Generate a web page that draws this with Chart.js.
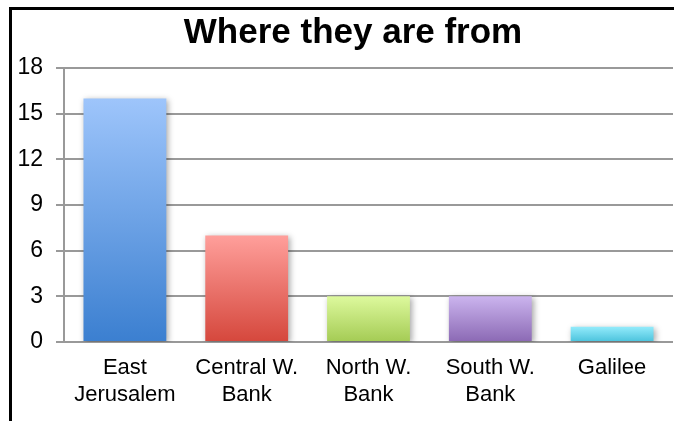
<!DOCTYPE html>
<html>
<head>
<meta charset="utf-8">
<title>Where they are from</title>
<script src="https://cdn.jsdelivr.net/npm/chart.js@4/dist/chart.umd.min.js"></script>
<style>
    html, body { margin: 0; padding: 0; background: #fff; }
    #wrap { position: relative; width: 674px; height: 421px; overflow: hidden; }
    /* black frame of the original, cut off at right and bottom */
    #frame {
        position: absolute; left: 9px; top: 7px; right: -5px; bottom: -5px;
        border-left: 3px solid #000; border-top: 3px solid #000;
    }
    #chart { position: absolute; left: 0; top: 0; }
</style>
</head>
<body>
<div id="wrap">
    <div id="frame"></div>
    <canvas id="chart" width="674" height="421"></canvas>
</div>
<script>
// data
const regions = [['East', 'Jerusalem'], ['Central W.', 'Bank'], ['North W.', 'Bank'], ['South W.', 'Bank'], 'Galilee'];
const people = [16, 7, 3, 3, 1];
const yMin = 0;
const yMax = 18;
const yStep = 3;

// light top / dark bottom of each bar's gradient
const topColors = ['#9ec5fb', '#ff9f9b', '#ddf99d', '#cbb4ee', '#93ebfb'];
const bottomColors = ['#3b7fd0', '#d5473c', '#a4cb54', '#8b69b4', '#4ac2dc'];

const gridGray = '#999999';

Chart.defaults.font.family = '"Liberation Sans", Arial, Helvetica, sans-serif';
Chart.defaults.color = '#000';

function barGradient(ctx) {
    const chart = ctx.chart;
    const i = ctx.dataIndex;
    if (ctx.type !== 'data' || !chart.chartArea) return bottomColors[i];
    const y = chart.scales.y;
    const g = chart.ctx.createLinearGradient(0, y.getPixelForValue(ctx.raw), 0, y.getPixelForValue(0));
    g.addColorStop(0, topColors[i]);
    g.addColorStop(1, bottomColors[i]);
    return g;
}

// soft drop shadow under the bars
const barShadow = {
    id: 'barShadow',
    beforeDatasetsDraw(chart) {
        const c = chart.ctx;
        c.save();
        c.shadowColor = 'rgba(0, 0, 0, 0.35)';
        c.shadowBlur = 6;
        c.shadowOffsetX = 2;
        c.shadowOffsetY = 2;
    },
    afterDatasetsDraw(chart) {
        chart.ctx.restore();
    }
};

// the y axis is kept narrow so the title sits where it does in the original;
// widen its label clip area back to the canvas edge so the numbers aren't cut
const wideYLabels = {
    id: 'wideYLabels',
    afterLayout(chart) {
        chart.scales.y.left = 0;
    }
};

new Chart(document.getElementById('chart').getContext('2d'), {
    type: 'bar',
    data: {
        labels: regions,
        datasets: [{
            data: people,
            backgroundColor: barGradient,
            borderWidth: 0,
            categoryPercentage: 1,
            barPercentage: 0.68
        }]
    },
    options: {
        responsive: false,
        animation: false,
        layout: { padding: { left: 33, right: 1, top: 0, bottom: 0 } },
        plugins: {
            legend: { display: false },
            tooltip: { enabled: false },
            title: {
                display: true,
                text: 'Where they are from',
                color: '#000',
                font: { size: 35, weight: 'bold' },
                padding: { top: 12, bottom: 14 }
            }
        },
        scales: {
            x: {
                grid: { display: false, drawTicks: false },
                border: { display: false },
                ticks: {
                    color: '#000',
                    font: { size: 22, lineHeight: 1.2 },
                    padding: 13,
                    maxRotation: 0,
                    autoSkip: false
                },
                afterFit(scale) { scale.height = 79; }
            },
            y: {
                min: yMin,
                max: yMax,
                grid: { color: gridGray, lineWidth: 2, tickLength: 8 },
                border: { display: true, color: gridGray, width: 2 },
                ticks: {
                    stepSize: yStep,
                    color: '#000',
                    font: { size: 23 },
                    padding: 13
                },
                afterFit(scale) { scale.width = 31; }
            }
        }
    },
    plugins: [barShadow, wideYLabels]
});
</script>
</body>
</html>
